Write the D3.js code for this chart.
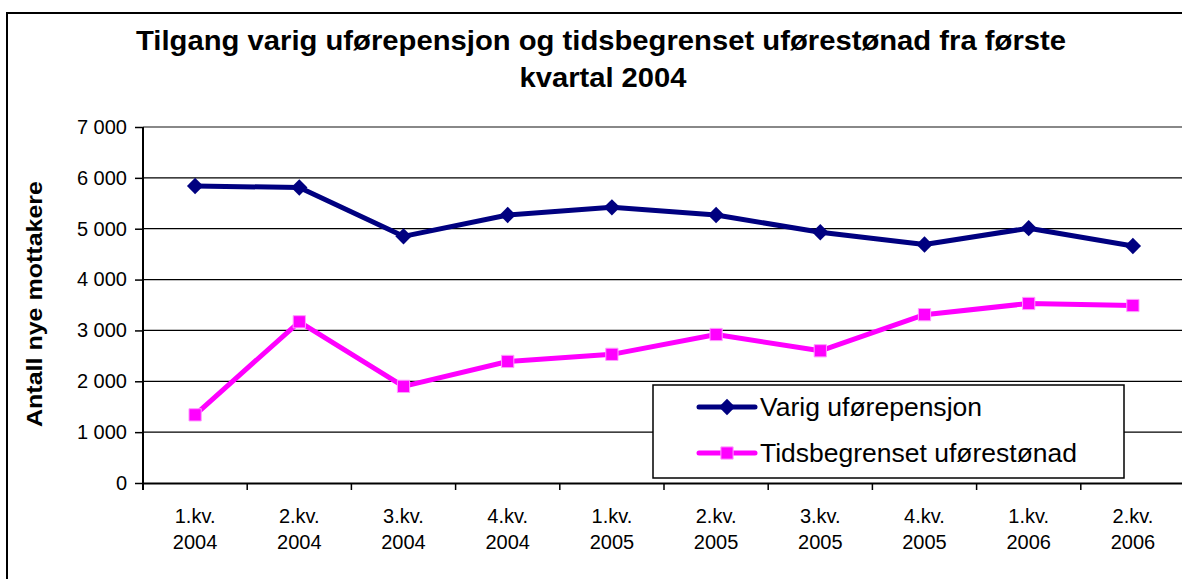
<!DOCTYPE html>
<html><head><meta charset="utf-8">
<script src="https://cdn.jsdelivr.net/npm/d3@7"></script>
<style>body{margin:0;background:#fff}svg{display:block}svg text{font-family:"Liberation Sans",Arial,sans-serif !important}</style>
</head><body><svg id="c" width="1182" height="579"></svg>
<script>
const categories = [["1.kv.","2004"],["2.kv.","2004"],["3.kv.","2004"],["4.kv.","2004"],["1.kv.","2005"],["2.kv.","2005"],["3.kv.","2005"],["4.kv.","2005"],["1.kv.","2006"],["2.kv.","2006"]];
const varig = [5840, 5810, 4850, 5270, 5420, 5270, 4930, 4690, 5010, 4660];
const tids = [1340, 3170, 1900, 2390, 2530, 2920, 2600, 3310, 3530, 3490];
const yTicks = [0,1000,2000,3000,4000,5000,6000,7000];
const seriesNames = ["Varig uførepensjon","Tidsbegrenset uførestønad"];
const titleLines = ["Tilgang varig uførepensjon og tidsbegrenset uførestønad fra første","kvartal 2004"];
const yLabel = "Antall nye mottakere";

const FF = "Liberation Sans";
const svg = d3.select("#c");
const idx = categories.map((d,i)=>i);
const x = d3.scaleBand().domain(idx).range([143,1185]);
const y = d3.scaleLinear().domain([0,7000]).range([483,127]);
const fmt = v => d3.format(",")(v).replace(/,/g," ");

// frame
svg.append("rect").attr("x",7).attr("y",13).attr("width",1220).attr("height",620)
  .attr("fill","#fff").attr("stroke","#000").attr("stroke-width",2);

// title
svg.append("text").attr("x",601).attr("y",50).attr("text-anchor","middle").attr("font-family",FF)
  .attr("font-size",27).attr("font-weight","bold").attr("textLength",930).attr("lengthAdjust","spacingAndGlyphs").text(titleLines[0]);
svg.append("text").attr("x",603).attr("y",87).attr("text-anchor","middle").attr("font-family",FF)
  .attr("font-size",27).attr("font-weight","bold").attr("textLength",167).attr("lengthAdjust","spacingAndGlyphs").text(titleLines[1]);

// gridlines
svg.append("g").selectAll("line").data(yTicks.filter(t=>t>0)).join("line")
  .attr("x1",143).attr("x2",1185).attr("y1",d=>y(d)).attr("y2",d=>y(d))
  .attr("stroke",d=>d===7000?"#888":"#000").attr("stroke-width",d=>d===7000?2:1.3);

// y axis
const ya = svg.append("g").attr("transform","translate(143,0)")
  .call(d3.axisLeft(y).tickValues(yTicks).tickFormat(fmt).tickSize(8).tickPadding(8));
ya.attr("font-family",FF);
ya.select(".domain").attr("stroke","#000").attr("stroke-width",2).attr("d","M0,127V490");
ya.selectAll(".tick line").attr("stroke","#000").attr("stroke-width",1.5);
ya.selectAll("text").attr("font-size",20).attr("fill","#000");

// x axis
const xa = svg.append("g").attr("transform","translate(0,483)")
  .call(d3.axisBottom(x).tickFormat("").tickSize(0));
xa.select(".domain").attr("stroke","#000").attr("stroke-width",2);
svg.append("g").selectAll("line").data(idx.concat([10])).join("line")
  .attr("x1",d=>d<10?x(d):x(9)+x.bandwidth()).attr("x2",d=>d<10?x(d):x(9)+x.bandwidth())
  .attr("y1",483).attr("y2",490).attr("stroke","#000").attr("stroke-width",1.5);
const xl = svg.append("g").attr("font-family",FF).selectAll("text").data(idx).join("text")
  .attr("x",d=>x(d)+x.bandwidth()/2).attr("text-anchor","middle").attr("font-size",20).attr("font-weight","normal").attr("fill","#000");
xl.append("tspan").attr("x",d=>x(d)+x.bandwidth()/2).attr("y",523).text(d=>categories[d][0]);
xl.append("tspan").attr("x",d=>x(d)+x.bandwidth()/2).attr("y",549).text(d=>categories[d][1]);

// y label
svg.append("text").attr("transform","translate(42,304) rotate(-90)").attr("text-anchor","middle").attr("font-family",FF)
  .attr("font-size",22).attr("font-weight","bold").attr("textLength",246).attr("lengthAdjust","spacingAndGlyphs").text(yLabel);

// lines
const line = d3.line().x((d,i)=>x(i)+x.bandwidth()/2).y(d=>y(d));
svg.append("path").datum(tids).attr("d",line).attr("fill","none").attr("stroke","#FF00FF").attr("stroke-width",5).attr("stroke-linejoin","round");
svg.append("path").datum(varig).attr("d",line).attr("fill","none").attr("stroke","#000080").attr("stroke-width",5).attr("stroke-linejoin","round");

const diamond = d3.symbol().type(d3.symbolDiamond2).size(170);
const square = d3.symbol().type(d3.symbolSquare).size(150);
svg.append("g").selectAll("path").data(tids).join("path")
  .attr("transform",(d,i)=>`translate(${x(i)+x.bandwidth()/2},${y(d)})`).attr("d",square)
  .attr("fill","#FF00FF").attr("stroke","#FF9CFF").attr("stroke-width",1);
svg.append("g").selectAll("path").data(varig).join("path")
  .attr("transform",(d,i)=>`translate(${x(i)+x.bandwidth()/2},${y(d)})`).attr("d",diamond)
  .attr("fill","#000080");

// legend
const lg = svg.append("g").attr("font-family",FF);
lg.append("rect").attr("x",653).attr("y",385).attr("width",471).attr("height",93)
  .attr("fill","#fff").attr("stroke","#000").attr("stroke-width",1.5);
const ly = [407, 453];
const cols = ["#000080","#FF00FF"];
seriesNames.forEach((n,i)=>{
  lg.append("line").attr("x1",699).attr("x2",755).attr("y1",ly[i]).attr("y2",ly[i])
    .attr("stroke",cols[i]).attr("stroke-width",5).attr("stroke-linecap","round");
  lg.append("path").attr("transform",`translate(727,${ly[i]})`).attr("d",i===0?diamond:square)
    .attr("fill",cols[i]).attr("stroke",i===1?"#FF9CFF":"none");
  lg.append("text").attr("x",760).attr("y",ly[i]+9).attr("font-size",26).attr("fill","#000")
    .attr("textLength",i===0?222:317).attr("lengthAdjust","spacingAndGlyphs").text(n);
});
</script></body></html>
